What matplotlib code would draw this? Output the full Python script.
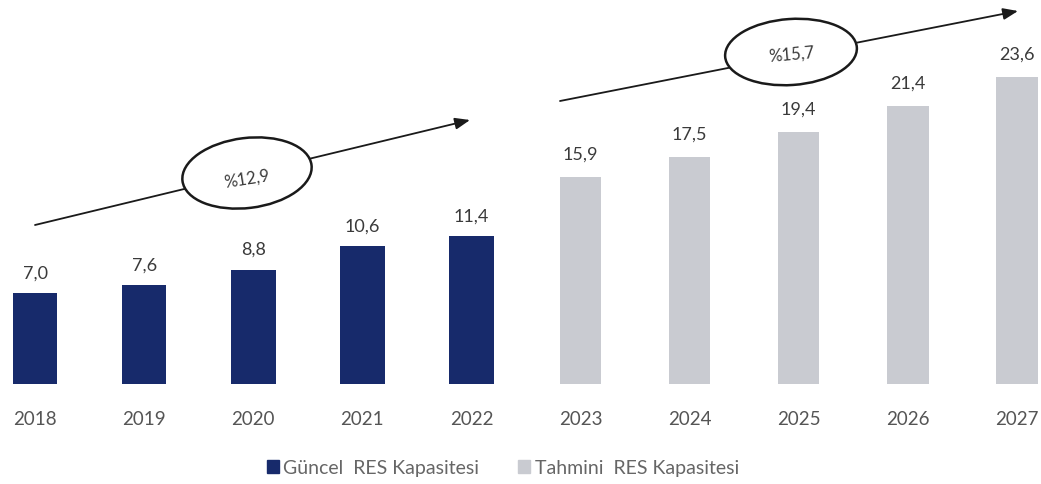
import matplotlib
matplotlib.use("Agg")
import matplotlib.pyplot as plt
from matplotlib.patches import Ellipse, Patch

years = ["2018", "2019", "2020", "2021", "2022", "2023", "2024", "2025", "2026", "2027"]
actual_values = [7.0, 7.6, 8.8, 10.6, 11.4]
forecast_values = [15.9, 17.5, 19.4, 21.4, 23.6]
series_names = ["Güncel  RES Kapasitesi", "Tahmini  RES Kapasitesi"]
cagr_labels = ["%12,9", "%15,7"]

navy = "#172a6b"
gray = "#c9cbd1"
txt = "#3a3a3a"
font = ["Lato", "DejaVu Sans"]
plt.rcParams["font.family"] = font

W, H = 1041, 485
fig = plt.figure(figsize=(W / 100, H / 100), dpi=100)
base_px = 385
ax = fig.add_axes([0, (H - base_px) / H, 1, base_px / H])
px_per_unit_x = 109.1
ax.set_xlim(-35 / px_per_unit_x, -35 / px_per_unit_x + W / px_per_unit_x)
ax.set_ylim(0, base_px / 13.0)

x_act = list(range(len(actual_values)))
x_fc = list(range(len(actual_values), len(years)))
b1 = ax.bar(x_act, actual_values, width=0.41, color=navy)
b2 = ax.bar(x_fc, forecast_values, width=0.38, color=gray)

fmt = lambda v: f"{v:.1f}".replace(".", ",")
ax.bar_label(b1, labels=[fmt(v) for v in actual_values], padding=9, fontsize=13, color=txt)
ax.bar_label(b2, labels=[fmt(v) for v in forecast_values], padding=11, fontsize=13, color=txt)

ax.set_xticks(range(len(years)))
ax.set_xticklabels(years, fontsize=13.5, color="#555555")
ax.tick_params(axis="x", length=0, pad=19)
ax.set_yticks([])
for s in ax.spines.values():
    s.set_visible(False)

tr = fig.dpi_scale_trans
def P(x, y):
    return (x / 100, (H - y) / 100)

arrows = [((35, 226), (470, 121)), ((560, 102), (1018, 12))]
ellipses = [((247, 174), 130, 70, 7), ((791, 53), 132, 66, 4)]
texts = [((247, 179), 9), ((792, 55), 5)]
for (s, e), (c, w, h, ang), (tp, rot), lab in zip(arrows, ellipses, texts, cagr_labels):
    ax.annotate("", xy=P(*e), xycoords=tr, xytext=P(*s), textcoords=tr,
                arrowprops=dict(arrowstyle="-|>,head_length=0.9,head_width=0.35",
                                color="#1a1a1a", lw=1.3, shrinkA=0, shrinkB=0),
                annotation_clip=False)
    el = Ellipse(P(*c), w / 100, h / 100, angle=ang, transform=tr,
                 facecolor="white", edgecolor="#1a1a1a", lw=1.8, zorder=5)
    fig.add_artist(el)
    fig.text(*P(*tp), lab, transform=tr, ha="center", va="center", rotation=rot,
             fontsize=12, color=txt, zorder=6)

handles = [Patch(color=navy), Patch(color=gray)]
fig.legend(handles, series_names, loc="center", bbox_to_anchor=(503 / W, 1 - 469 / H),
           ncol=2, frameon=False, fontsize=14, handlelength=0.6, handleheight=0.6,
           handletextpad=0.25, columnspacing=2.0, labelcolor="#666666",
           borderpad=0, borderaxespad=0)

fig.savefig("out.png", dpi=100)
